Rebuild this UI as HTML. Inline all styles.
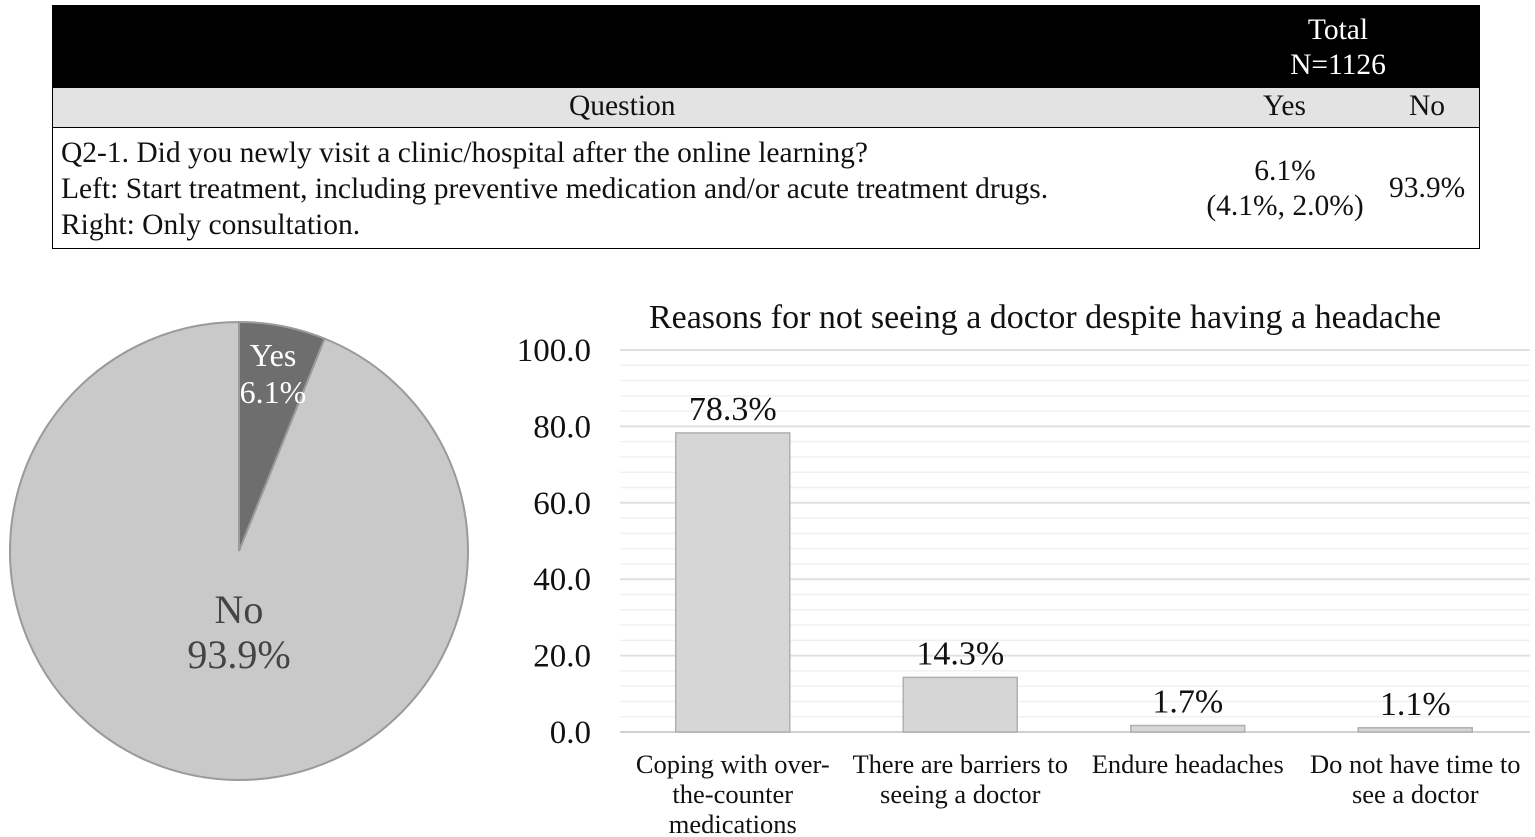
<!DOCTYPE html>
<html><head><meta charset="utf-8"><style>
body{margin:0;width:1535px;height:837px;background:#fff;font-family:"Liberation Serif",serif;overflow:hidden;position:relative}
.t{position:absolute;color:#111;font-size:29.5px;white-space:nowrap}
</style></head><body>
<div style="position:absolute;left:52px;top:5px;width:1426px;height:242px;border:1px solid #000">
 <div style="position:absolute;left:0;top:0;width:100%;height:82px;background:#000"></div>
 <div class="t" style="left:1223px;top:7px;width:124px;text-align:center;color:#fff;line-height:35px">Total<br>N=1126</div>
 <div style="position:absolute;left:0;top:82px;width:100%;height:39px;background:#e3e3e3;border-bottom:1px solid #000"></div>
 <div class="t" style="left:516px;top:84px">Question</div>
 <div class="t" style="left:1210px;top:84px">Yes</div>
 <div class="t" style="left:1356px;top:84px">No</div>
 <div class="t" style="left:8px;top:129px;line-height:36px">Q2-1. Did you newly visit a clinic/hospital after the online learning?<br>Left: Start treatment, including preventive medication and/or acute treatment drugs.<br>Right: Only consultation.</div>
 <div class="t" style="left:1142px;top:148px;width:180px;text-align:center;line-height:35px">6.1%<br>(4.1%, 2.0%)</div>
 <div class="t" style="left:1336px;top:166px">93.9%</div>
</div>
<svg width="1535" height="837" style="position:absolute;left:0;top:0">
<g id="pie"></g>
<g id="bars"></g>
</svg>
<script>
const pieLabels=["Yes","No"];
const pieValues=[6.1,93.9];
const categories=[["Coping with over-","the-counter","medications"],["There are barriers to","seeing a doctor"],["Endure headaches"],["Do not have time to","see a doctor"]];
const barValues=[78.3,14.3,1.7,1.1];
const yTicks=[0,20,40,60,80,100];
const NS="http://www.w3.org/2000/svg";
function mk(tag,attrs,parent,text){const e=document.createElementNS(NS,tag);for(const k in attrs)e.setAttribute(k,attrs[k]);if(text!==undefined)e.textContent=text;parent.appendChild(e);return e;}
const pie=document.getElementById('pie');
const cx=239,cy=551,r=229;
let a0=0;const total=pieValues.reduce((a,b)=>a+b,0);
const fills=["#6e6e6e","#c9c9c9"];
pieValues.forEach((v,i)=>{
 const a1=a0+v/total*2*Math.PI;
 const x0=cx+r*Math.sin(a0),y0=cy-r*Math.cos(a0),x1=cx+r*Math.sin(a1),y1=cy-r*Math.cos(a1);
 const p=mk('path',{d:`M${cx},${cy}L${x0},${y0}A${r},${r} 0 ${a1-a0>Math.PI?1:0} 1 ${x1},${y1}Z`,fill:fills[i],stroke:"#9a9a9a","stroke-width":2},pie);
 
 
 a0=a1;
});
const t1=mk('text',{x:273,y:366,"text-anchor":"middle","font-size":32,fill:"#fff"},pie,"Yes");

const t2=mk('text',{x:273,y:403,"text-anchor":"middle","font-size":32,fill:"#fff"},pie,pieValues[0].toFixed(1)+"%");

const t3=mk('text',{x:239,y:623,"text-anchor":"middle","font-size":40,fill:"#444"},pie,"No");

const t4=mk('text',{x:239,y:668,"text-anchor":"middle","font-size":40,fill:"#444"},pie,pieValues[1].toFixed(1)+"%");

const g=document.getElementById('bars');
const x0=620,x1=1530,yb=732,yt=350;
const y=v=>yb-(v/100)*(yb-yt);
const tt=mk('text',{x:1045,y:328,"text-anchor":"middle","font-size":34,fill:"#111"},g,"Reasons for not seeing a doctor despite having a headache");

for(let v=4;v<100;v+=4){if(v%20===0)continue;const l=mk('line',{x1:x0,x2:x1,y1:y(v),y2:y(v),stroke:"#f0f0f0","stroke-width":1.5},g);}
yTicks.forEach(v=>{
 const l=mk('line',{x1:x0,x2:x1,y1:y(v),y2:y(v),stroke:v===0?"#d0d0d0":"#e0e0e0","stroke-width":2},g);
 
 const t=mk('text',{x:591,y:y(v)+11,"text-anchor":"end","font-size":33,fill:"#111"},g,v.toFixed(1));
 
});
const bw=(x1-x0)/categories.length;
barValues.forEach((v,i)=>{
 const c=x0+bw*(i+0.5)-1;
 const b=mk('rect',{x:c-57,y:y(v),width:114,height:yb-y(v),fill:"#d6d6d6",stroke:"#b0b0b0","stroke-width":1.5},g);
 
 const t=mk('text',{x:c,y:y(v)-13,"text-anchor":"middle","font-size":34,fill:"#111"},g,v.toFixed(1)+"%");
 
 categories[i].forEach((s,j)=>{
  const ct=mk('text',{x:c,y:773+j*30,"text-anchor":"middle","font-size":26.5,fill:"#111"},g,s);
  
 });
});
</script>
</body></html>
